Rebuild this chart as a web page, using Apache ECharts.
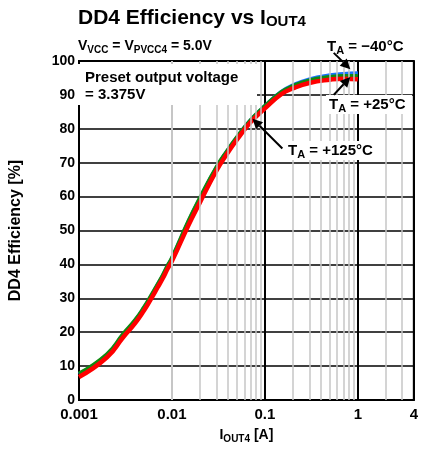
<!DOCTYPE html>
<html>
<head>
<meta charset="utf-8">
<script src="https://cdn.jsdelivr.net/npm/echarts@6/dist/echarts.min.js"></script>
<style>
  html, body { margin: 0; padding: 0; background: #fff; }
  #chart { width: 421px; height: 449px; }
</style>
</head>
<body>
<div id="chart"></div>
<script>
// load current [A]
const currents = [0.001, 0.002, 0.003, 0.004, 0.005, 0.006, 0.007, 0.008, 0.009, 0.01,
  0.015, 0.02, 0.03, 0.04, 0.05, 0.07, 0.1, 0.15, 0.2, 0.3, 0.5, 0.7, 1];
// efficiency [%] per ambient temperature
const effMinus40 = [7.6, 13.3, 19.3, 23.3, 27.1, 30.7, 33.9, 36.7, 39.5, 41.7,
  52.5, 59.4, 68.4, 73.7, 77.4, 82.5, 86.7, 90.9, 92.8, 94.6, 95.8, 96.2, 96.4];
const eff25 = [7.8, 13.5, 19.5, 23.5, 27.3, 30.9, 34.1, 36.9, 39.7, 41.9,
  52.7, 59.6, 68.6, 73.8, 77.5, 82.5, 86.7, 90.8, 92.6, 94.3, 95.3, 95.6, 95.6];
const eff125 = [6.8, 12.6, 18.6, 22.6, 26.4, 30.0, 33.2, 36.0, 38.8, 41.0,
  51.5, 58.3, 67.6, 73.0, 76.8, 81.9, 86.0, 90.2, 91.9, 93.5, 94.5, 94.8, 94.6];
// minor vertical grid positions
const minorTicks = [0.002, 0.003, 0.004, 0.005, 0.006, 0.007, 0.008, 0.009,
  0.02, 0.03, 0.04, 0.05, 0.06, 0.07, 0.08, 0.09,
  0.2, 0.3, 0.4, 0.5, 0.6, 0.7, 0.8, 0.9, 2, 3];

const FONT = 'Liberation Sans, Arial, sans-serif';
const chart = echarts.init(document.getElementById('chart'));

function pairs(ys) {
  return currents.map((x, i) => [x, ys[i]]);
}

chart.setOption({
  animation: false,
  backgroundColor: '#fff',
  grid: {
    left: 72, right: 4, top: 61, bottom: 43,
    show: true, backgroundColor: '#fff',
    borderColor: '#000', borderWidth: 2
  },
  xAxis: {
    type: 'log',
    logBase: 10,
    min: 0.001,
    max: 4,
    name: '{i|I}{s|OUT4}{i| [A]}',
    nameLocation: 'middle',
    nameGap: 27,
    nameTextStyle: {
      rich: {
        i: { fontFamily: FONT, fontWeight: 'bold', fontSize: 14, color: '#000' },
        s: { fontFamily: FONT, fontWeight: 'bold', fontSize: 10, color: '#000', padding: [7, 0, 0, 0] }
      }
    },
    axisLine: { lineStyle: { color: '#000', width: 2 } },
    axisTick: { show: false },
    splitLine: { show: true, lineStyle: { color: '#000', width: 2 } },
    axisLabel: {
      fontFamily: FONT, fontWeight: 'bold', fontSize: 15, color: '#000', margin: 7,
      formatter: (v) => String(+v.toPrecision(3))
    }
  },
  yAxis: {
    type: 'value',
    min: 0,
    max: 100,
    interval: 10,
    z: 1.5,
    name: 'DD4 Efficiency [%]',
    nameLocation: 'middle',
    nameGap: 55,
    nameTextStyle: { fontFamily: FONT, fontWeight: 'bold', fontSize: 16, color: '#000' },
    axisLine: { show: true, lineStyle: { color: '#000', width: 2 } },
    axisTick: { show: false },
    splitLine: { lineStyle: { color: '#000', width: 1.7 } },
    axisLabel: { fontFamily: FONT, fontWeight: 'bold', fontSize: 14, color: '#000', margin: 4 }
  },
  series: [
    {
      type: 'line',
      data: [],
      z: 1,
      silent: true,
      markLine: {
        silent: true,
        symbol: 'none',
        label: { show: false },
        lineStyle: { color: '#c6c6c6', width: 1.5, type: 'solid' },
        data: minorTicks.map((v) => ({ xAxis: v }))
      }
    },
    {
      name: 'TA = -40°C',
      type: 'line',
      data: pairs(effMinus40),
      smooth: true,
      symbol: 'none',
      lineStyle: { color: '#1a73ff', width: 4 }
    },
    {
      name: 'TA = +25°C',
      type: 'line',
      data: pairs(eff25),
      smooth: true,
      symbol: 'none',
      lineStyle: { color: '#108a10', width: 4 }
    },
    {
      name: 'TA = +125°C',
      type: 'line',
      data: pairs(eff125),
      smooth: true,
      symbol: 'none',
      lineStyle: { color: '#ff0000', width: 4.5 }
    }
  ]
});

// annotation arrows, tail -> head in data coordinates
const arrows = [
  [[0.55, 102.4], [0.83, 97.6]],
  [[0.55, 90.0], [0.83, 95.3]],
  [[0.154, 74.2], [0.0735, 83.0]]
];

const rich = (size) => ({
  t: { fontFamily: FONT, fontWeight: 'bold', fontSize: size, fill: '#000' },
  s: { fontFamily: FONT, fontWeight: 'bold', fontSize: Math.round(size * 0.72), fill: '#000', padding: [7, 0, 0, 0] }
});

function label(x, y, text, size) {
  return { type: 'text', x: x, y: y, z: 100, style: { text: text, rich: rich(size), verticalAlign: 'top' } };
}

function whiteBox(x, y, w, h) {
  return { type: 'rect', z: 90, shape: { x: x, y: y, width: w, height: h }, style: { fill: '#fff' } };
}

const graphics = [
  label(78, 7, '{t|DD4 Efficiency vs I}{s|OUT4}', 21),
  label(78, 38, '{t|V}{s|VCC}{t| = V}{s|PVCC4}{t| = 5.0V}', 14),
  label(327, 38, '{t|T}{s|A}{t| = −40°C}', 15),
  whiteBox(75, 64, 182, 41),
  {
    type: 'text', x: 85, y: 69, z: 100,
    style: {
      text: 'Preset output voltage\n= 3.375V',
      font: 'bold 15px ' + FONT, fill: '#000', lineHeight: 17, verticalAlign: 'top'
    }
  },
  whiteBox(326, 95, 86, 19),
  label(329, 96, '{t|T}{s|A}{t| = +25°C}', 15),
  whiteBox(285, 141, 96, 19),
  label(288, 142, '{t|T}{s|A}{t| = +125°C}', 15)
];

arrows.forEach(([tail, head]) => {
  const p0 = chart.convertToPixel({ gridIndex: 0 }, tail);
  const p1 = chart.convertToPixel({ gridIndex: 0 }, head);
  const dx = p1[0] - p0[0], dy = p1[1] - p0[1];
  const len = Math.sqrt(dx * dx + dy * dy);
  const ux = dx / len, uy = dy / len;
  const bx = p1[0] - ux * 10, by = p1[1] - uy * 10;
  graphics.push({
    type: 'line', z: 110,
    shape: { x1: p0[0], y1: p0[1], x2: bx, y2: by },
    style: { stroke: '#000', lineWidth: 2 }
  });
  graphics.push({
    type: 'polygon', z: 110,
    shape: { points: [[p1[0], p1[1]], [bx - uy * 5, by + ux * 5], [bx + uy * 5, by - ux * 5]] },
    style: { fill: '#000' }
  });
});

chart.setOption({ graphic: graphics });
</script>
</body>
</html>
